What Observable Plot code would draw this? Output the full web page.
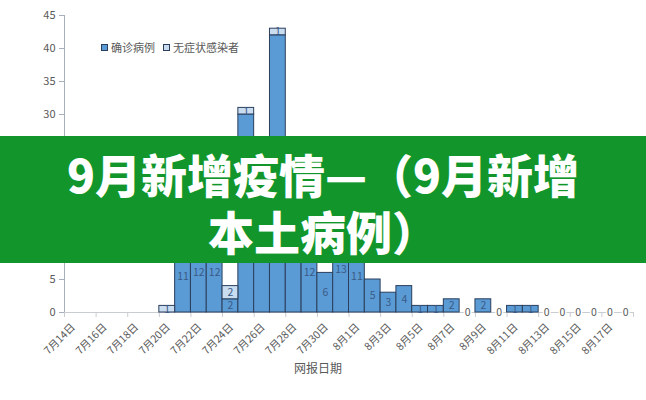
<!DOCTYPE html>
<html>
<head>
<meta charset="utf-8">
<script src="https://cdn.jsdelivr.net/npm/d3@7"></script>
<script src="https://cdn.jsdelivr.net/npm/@observablehq/plot@0.6"></script>
<style>
  html, body { margin: 0; padding: 0; background: #fff; }
  #wrap { position: relative; width: 646px; height: 400px; overflow: hidden; font-family: "Noto Sans CJK SC", "Noto Sans", sans-serif; }
  #legend { position: absolute; left: 101px; top: 39px; font-size: 11px; color: #595959; display: flex; align-items: center; white-space: nowrap; }
  #legend .sw { display: inline-block; width: 5px; height: 5px; border: 1px solid #2b3f5c; margin-right: 3px; }
  #legend .item { display: flex; align-items: center; margin-right: 8px; }
  #banner { position: absolute; left: 0; top: 136px; width: 646px; height: 127px; background: #12962b; color: #fff; text-align: center; font-family: "Noto Sans CJK SC", sans-serif; font-weight: 900; font-size: 46px; line-height: 57px; padding-top: 9px; box-sizing: border-box; }
</style>
</head>
<body>
<div id="wrap">
  <div id="chart"></div>
  <div id="legend"></div>
  <div id="banner">9月新增疫情—（9月新增<br>本土病例）</div>
</div>
<script>
const dates = ["7月14日","7月15日","7月16日","7月17日","7月18日","7月19日","7月20日","7月21日","7月22日","7月23日","7月24日","7月25日","7月26日","7月27日","7月28日","7月29日","7月30日","7月31日","8月1日","8月2日","8月3日","8月4日","8月5日","8月6日","8月7日","8月8日","8月9日","8月10日","8月11日","8月12日","8月13日","8月14日","8月15日","8月16日","8月17日","8月18日"];
const confirmed    = [null,null,null,null,null,null,0,11,12,12,2,30,24,42,19,12,6,13,11,5,3,4,1,1,2,0,2,0,1,1,0,0,0,0,0,0];
const asymptomatic = [null,null,null,null,null,null,1,0,0,0,2,1,0,1,0,0,0,0,0,0,0,0,0,0,0,0,0,0,0,0,0,0,0,0,0,0];
const seriesNames = ["确诊病例", "无症状感染者"];
const yTicks = [0,5,10,15,20,25,30,35,40,45];

const colConfirmed = "#5b9bd5";
const colAsym = "#c9dcf0";
const colEdge = "#2b3f5c";
const colLabel = "#3a5a85";
const colText = "#595959";

const rows = dates.map((d, i) => ({i, d, c: confirmed[i], a: asymptomatic[i]}));
const valid = rows.filter(r => r.c !== null);
const tickIdx = d3.range(0, dates.length + 1, 2);
const labelRows = rows.filter(r => r.i % 2 === 0);

const chart = Plot.plot({
  width: 646,
  height: 400,
  marginLeft: 64,
  marginRight: 13,
  marginTop: 15,
  marginBottom: 88,
  style: {fontFamily: "'Noto Sans CJK SC', 'Noto Sans', sans-serif", background: "transparent"},
  x: {type: "linear", domain: [0, dates.length], axis: null},
  y: {domain: [0, 45], axis: null},
  marks: [
    Plot.axisY({ticks: yTicks, tickSize: 5, tickPadding: 4, fontSize: 11, color: colText, stroke: "#a7afba", label: null}),
    Plot.ruleX([0], {stroke: "#a7afba"}),
    Plot.ruleY([0], {stroke: "#c9ccd1"}),
    Plot.axisX({ticks: tickIdx, tickSize: 5, tickFormat: () => "", stroke: "#c9ccd1", label: null}),
    Plot.rectY(valid.filter(r => r.c > 0), {x1: "i", x2: r => r.i + 1, y1: 0, y2: "c", fill: colConfirmed, stroke: colEdge, strokeWidth: 1}),
    Plot.rectY(valid.filter(r => r.a > 0), {x1: "i", x2: r => r.i + 1, y1: "c", y2: r => r.c + r.a, fill: colAsym, stroke: colEdge, strokeWidth: 1}),
    Plot.text(valid.filter(r => r.c > 0), {x: r => r.i + 0.5, y: r => r.c / 2, text: "c", fill: colLabel, fontSize: 10.5}),
    Plot.text(valid.filter(r => r.a > 0), {x: r => r.i + 0.5, y: r => r.c + r.a / 2, text: "a", fill: colLabel, fontSize: 10.5}),
    Plot.text(valid.filter(r => r.c === 0 && r.a === 0), {x: r => r.i + 0.5, y: 0, text: () => "0", fill: colText, fontSize: 10.5, stroke: "#fff", strokeWidth: 3, paintOrder: "stroke"}),
    Plot.text(labelRows, {x: r => r.i + 0.5, y: 0, text: "d", rotate: -45, textAnchor: "end", lineAnchor: "middle", dy: 13, dx: 1, fill: colText, fontSize: 10.5}),
    Plot.text(["网报日期"], {frameAnchor: "bottom", dx: -31, dy: 60, fill: colText, fontSize: 12})
  ]
});
document.getElementById("chart").appendChild(chart);

const legend = document.getElementById("legend");
[colConfirmed, colAsym].forEach((c, k) => {
  const item = document.createElement("span");
  item.className = "item";
  const sw = document.createElement("span");
  sw.className = "sw";
  sw.style.background = c;
  item.appendChild(sw);
  item.appendChild(document.createTextNode(seriesNames[k]));
  legend.appendChild(item);
});
</script>
</body>
</html>
